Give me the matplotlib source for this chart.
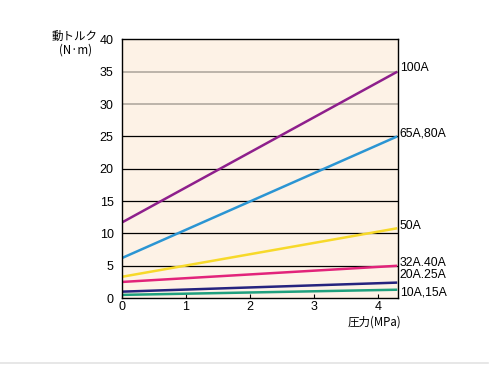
import matplotlib
matplotlib.use("Agg")
import matplotlib.pyplot as plt

JP = ["Noto Sans CJK JP", "DejaVu Sans"]
plt.rcParams["font.family"] = ["Liberation Sans", "DejaVu Sans"]

# pressure range of each line (MPa)
PRESSURE = [0.0, 4.3]
SIZES = ["100A", "65A,80A", "50A", "32A.40A", "20A.25A", "10A,15A"]
TORQUE_START = [11.7, 6.2, 3.3, 2.5, 1.0, 0.5]
TORQUE_END = [35.0, 25.0, 10.8, 5.0, 2.4, 1.3]
LABEL_Y = [35.6, 25.5, 11.1, 5.4, 3.5, 0.9]
COLORS = ["#8e1f8c", "#2b95d3", "#f7d92a", "#e2237a", "#25237e", "#1fa07e"]
GRID_GRAY = [30, 35]

fig = plt.figure(figsize=(4.9, 3.75), dpi=100)
ax = fig.add_axes([0.249, 0.205, 0.563, 0.69])
ax.set_facecolor("#fdf2e6")
ax.set_xlim(0, 4.31)
ax.set_ylim(0, 40)

for yv in range(5, 40, 5):
    ax.axhline(yv, color="#aaa39a" if yv in GRID_GRAY else "black",
               lw=1.1 if yv in GRID_GRAY else 0.9, zorder=1)

for size, y0, y1, ly, c in zip(SIZES, TORQUE_START, TORQUE_END, LABEL_Y, COLORS):
    ax.plot(PRESSURE, [y0, y1], color=c, lw=1.8, zorder=2, solid_capstyle="butt")
    ax.text(4.34, ly, size, fontsize=8.8, ha="left", va="center",
            clip_on=False)

ax.set_xticks([0, 1, 2, 3, 4])
ax.set_yticks(range(0, 45, 5))
ax.tick_params(axis="x", direction="in", length=3, width=0.8, labelsize=9, pad=2)
ax.tick_params(axis="y", length=0, labelsize=9, pad=6)
for spine in ax.spines.values():
    spine.set_linewidth(1.0)

fig.text(0.2, 0.885, "動トルク\n(N·m)", family=JP, fontsize=8.3,
         ha="right", va="center", linespacing=1.0, multialignment="center")
fig.text(0.818, 0.142, "圧力(MPa)", family=JP, fontsize=8.3,
         ha="right", va="center")

fig.add_artist(plt.Line2D([0.0, 0.995], [0.032, 0.032],
                          transform=fig.transFigure, color="#e3e3e3", lw=1.2))

fig.savefig("out.png", dpi=100)
